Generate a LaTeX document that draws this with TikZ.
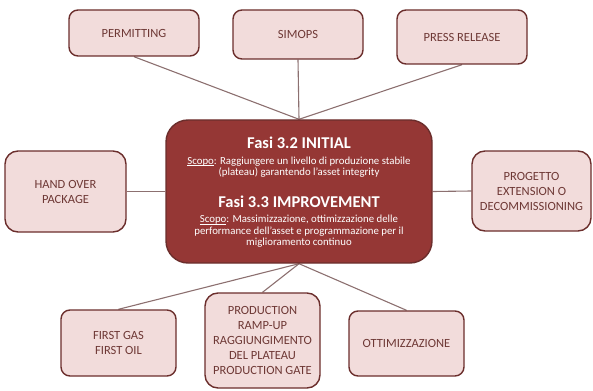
\documentclass[tikz,border=0pt]{standalone}
\usepackage{fontspec}
\setmainfont{Carlito}
\usetikzlibrary{backgrounds}
\definecolor{satfill}{HTML}{F2DCDB}
\definecolor{satline}{HTML}{6B2E2C}
\definecolor{sattext}{HTML}{6E3835}
\definecolor{corefill}{HTML}{953735}
\definecolor{wire}{HTML}{8C7070}
% underline sitting just below the baseline
\newcommand\scopoul[1]{\setbox0=\hbox{#1}\rlap{\rule[-1.4pt]{\wd0}{0.5pt}}\box0}
\begin{document}
\begin{tikzpicture}[x=1pt,y=-1pt,
  sat/.style={draw=satline, line width=1.4pt, fill=satfill, rounded corners=9pt,
    text=sattext, align=center, inner sep=0pt,
    font=\fontsize{12.5}{15}\selectfont},
  satbig/.style={sat, rounded corners=13pt},
  core/.style={draw=satline, line width=1.4pt, fill=corefill, rounded corners=22pt, inner sep=0pt},
  coretitle/.style={text=white, font=\fontsize{16.5}{19}\selectfont\bfseries},
  corebody/.style={text=white, align=center, font=\fontsize{10.8}{11.6}\selectfont},
  wireline/.style={draw=wire, line width=1.1pt}]
\useasboundingbox (0,0) rectangle (593,390);

% central box
\node[core, minimum width=266pt, minimum height=143pt] (core) at (299,191.5) {};
\node[coretitle] (t1) at (299,143) {Fasi 3.2 INITIAL};
\node[corebody] (b1) at (299,167) {\scopoul{Scopo}: Raggiungere un livello di produzione stabile\\(plateau) garantendo l'asset integrity};
\node[coretitle] (t2) at (299,202) {Fasi 3.3 IMPROVEMENT};
\node[corebody] (b2) at (299,231.5) {\scopoul{Scopo}: Massimizzazione, ottimizzazione delle\\performance dell'asset e programmazione per il\\miglioramento continuo};

% surrounding boxes
\node[sat, minimum width=130pt, minimum height=46pt] (permit) at (134,33) {PERMITTING};
\node[sat, minimum width=130pt, minimum height=49pt] (simops) at (298,34.5) {SIMOPS};
\node[sat, minimum width=130pt, minimum height=54pt] (press) at (462,37) {PRESS RELEASE};
\node[satbig, minimum width=121pt, minimum height=81pt] (handover) at (65.5,191.5) {HAND OVER\\PACKAGE};
\node[satbig, minimum width=119pt, minimum height=80pt] (progetto) at (531.5,191) {PROGETTO\\EXTENSION O\\DECOMMISSIONING};
\node[sat, minimum width=115pt, minimum height=66pt] (firstgas) at (118.5,343) {FIRST GAS\\FIRST OIL};
\node[satbig, minimum width=115pt, minimum height=95pt] (ramp) at (262.5,340.5) {PRODUCTION\\RAMP-UP\\RAGGIUNGIMENTO\\DEL PLATEAU\\PRODUCTION GATE};
\node[sat, minimum width=115pt, minimum height=65pt] (ottim) at (406.5,343.5) {OTTIMIZZAZIONE};

% connectors
\begin{scope}[on background layer]
\draw[wireline] (core.north) -- (permit.south);
\draw[wireline] (core.north) -- (simops.south);
\draw[wireline] (core.north) -- (press.south);
\draw[wireline] (core.west) -- (handover.east);
\draw[wireline] (core.east) -- (progetto.west);
\draw[wireline] (core.south) -- (firstgas.north);
\draw[wireline] (core.south) -- (ramp.north);
\draw[wireline] (core.south) -- (ottim.north);
\end{scope}
\end{tikzpicture}
\end{document}
